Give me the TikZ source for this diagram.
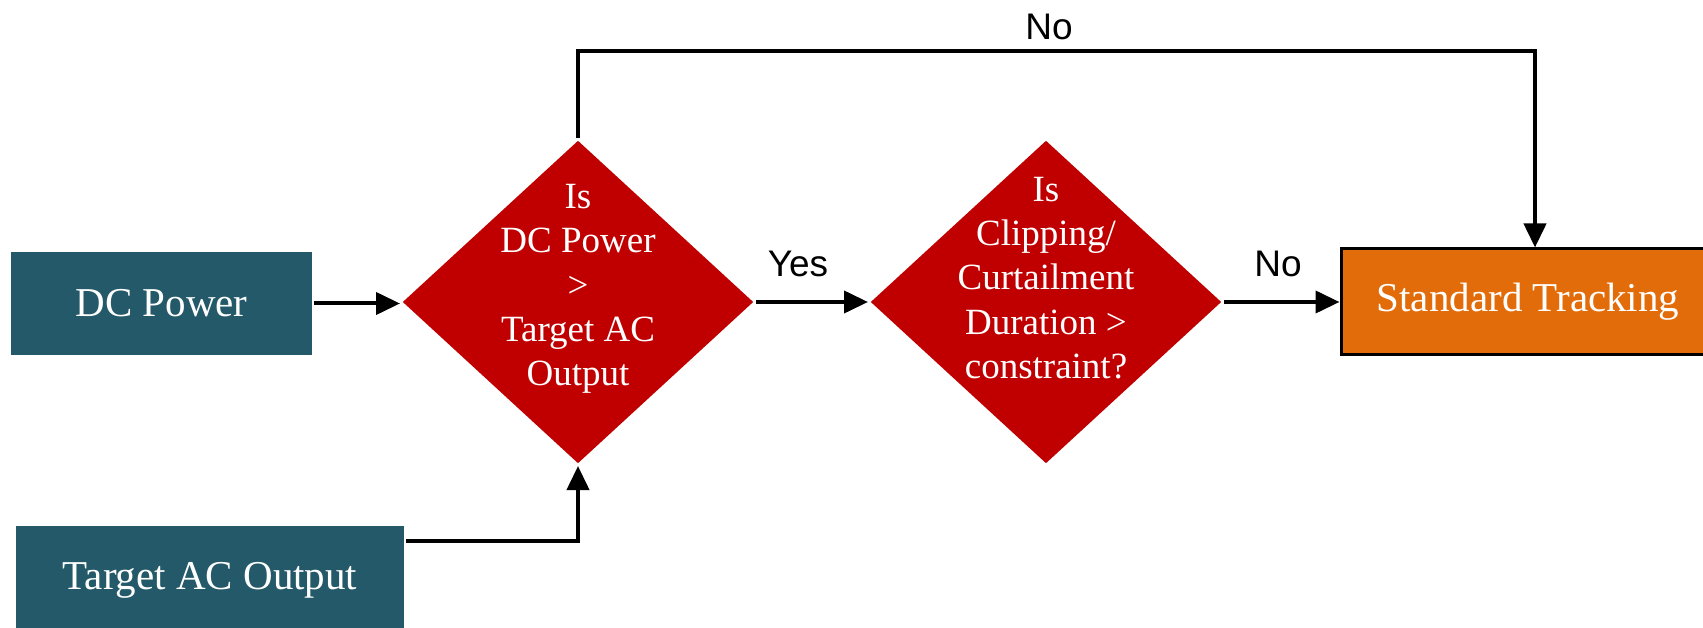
\documentclass[tikz,border=0pt]{standalone}
\usepackage{fontspec}
\setmainfont{Liberation Serif}
\newfontfamily\labelfont{Liberation Sans}
\usetikzlibrary{shapes.geometric,arrows.meta}
\definecolor{boxteal}{RGB}{35,89,104}
\definecolor{dred}{RGB}{192,0,0}
\definecolor{orng}{RGB}{227,108,10}
\begin{document}
\begin{tikzpicture}[x=1pt,y=-1pt,line width=4pt,
  arr/.style={line width=4pt,-{Triangle[length=24pt,width=22pt]}},
  inbox/.style={fill=boxteal,text=white,font=\fontsize{41}{48}\selectfont,inner sep=0,draw=none},
  decision/.style={diamond,fill=dred,draw=none,inner sep=0,minimum width=352pt,minimum height=324pt},
  dtext/.style={text=white,align=center,font=\fontsize{37}{44.2}\selectfont,inner sep=0},
  lbl/.style={font=\labelfont\fontsize{37}{44}\selectfont,inner sep=0}]
\useasboundingbox (0,0) rectangle (1703,628);
\node[inbox,minimum width=301pt,minimum height=103pt] (dc) at (161.5,303.5) {DC Power};
\node[inbox,minimum width=388pt,minimum height=108pt] (tac) at (210,580) {Target AC Output};
\node[fill=orng,draw=black,line width=3pt,text=white,font=\fontsize{41}{48}\selectfont,inner sep=0,minimum width=374pt,minimum height=105pt] (st) at (1528,301.5) {Standard Tracking};
\node[decision] (d1) at (578,302) {};
\node[decision] (d2) at (1046,302) {};
\node[dtext] (t1) at (578,289) {Is\\DC Power\\>\\Target AC\\Output};
\node[dtext] (t2) at (1046,278) {Is\\Clipping/\\Curtailment\\Duration >\\constraint?};
\draw[arr] (dc.east) -- (dc.east -| d1.west);
\draw[arr] ([yshift=-17pt]tac.north east) -| (d1.south);
\draw[arr] (d1.north) -- ++(0,-87) coordinate (tl) -| ([xshift=7pt]st.north);
\draw[arr] (d1.east) -- (d2.west);
\draw[arr] (d2.east) -- (d2.east -| st.west);
\node[lbl] (yes) at (798,264) {Yes};
\node[lbl] (no1) at (1278,264) {No};
\node[lbl] (no2) at (1049,27) {No};
\end{tikzpicture}
\end{document}
